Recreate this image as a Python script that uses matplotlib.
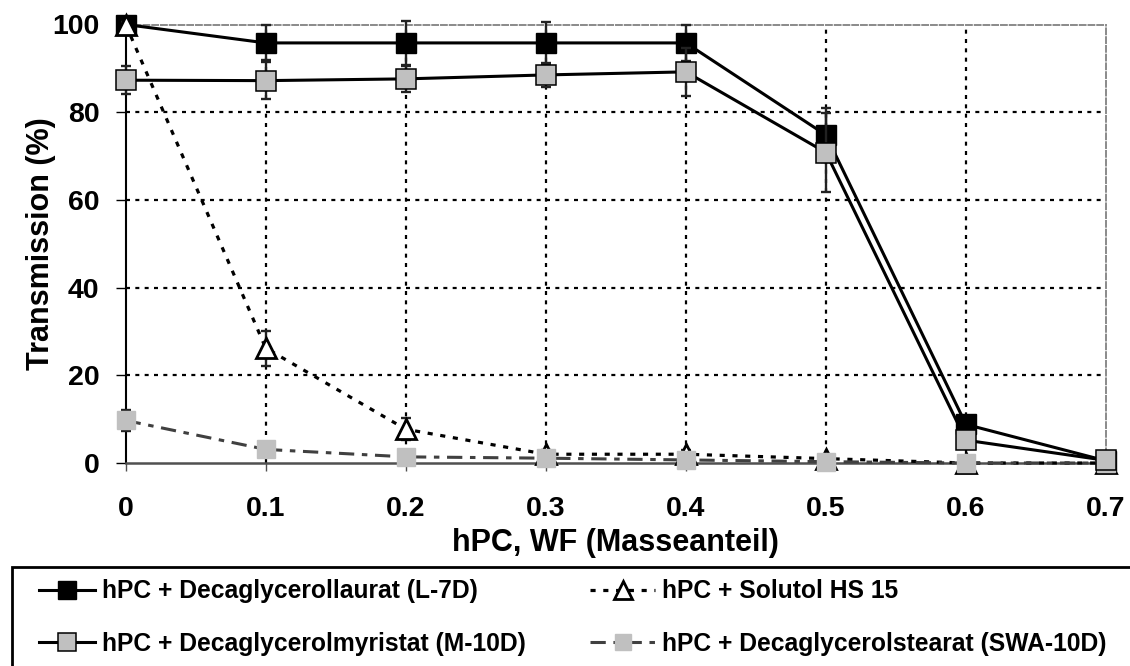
import matplotlib
matplotlib.use("Agg")
import matplotlib.pyplot as plt
from matplotlib.patches import Rectangle

plt.rcParams['font.family'] = ['Liberation Sans', 'DejaVu Sans']
plt.rcParams['font.weight'] = 'bold'

x = [0.0, 0.1, 0.2, 0.3, 0.4, 0.5, 0.6, 0.7]

l7d = [100.0, 95.8, 95.8, 95.8, 95.8, 74.8, 8.8, 0.5]
l7d_err = [0.5, 4.0, 5.0, 4.8, 4.2, 6.2, 1.0, 0.3]

m10d = [87.3, 87.2, 87.6, 88.5, 89.2, 70.8, 5.2, 0.6]
m10d_err = [3.2, 4.2, 3.0, 2.8, 5.4, 9.0, 1.0, 0.4]

solutol = [100.0, 26.2, 7.7, 2.0, 2.0, 1.0, 0.0, 0.0]
solutol_err = [0.5, 4.0, 2.5, 1.0, 1.0, 0.8, 0.5, 0.3]

swa = [9.7, 3.1, 1.4, 1.1, 0.7, 0.3, 0.0, 0.0]
swa_err = [2.3, 0.3, 0.3, 0.3, 0.2, 0.2, 0.2, 0.2]

labels = ["hPC + Decaglycerollaurat (L-7D)",
          "hPC + Decaglycerolmyristat (M-10D)",
          "hPC + Solutol HS 15",
          "hPC + Decaglycerolstearat (SWA-10D)"]

xticks = [0, 0.1, 0.2, 0.3, 0.4, 0.5, 0.6, 0.7]
xticklabels = ["0", "0.1", "0.2", "0.3", "0.4", "0.5", "0.6", "0.7"]
yticks = [0, 20, 40, 60, 80, 100]

W, H = 1130, 666
fig = plt.figure(figsize=(W / 100, H / 100), dpi=100)
ax = fig.add_axes([125.7 / W, (H - 463) / H, (1106 - 125.7) / W, (463 - 24.5) / H])

ax.set_xlim(0, 0.7)
ax.set_ylim(0, 100)

# grid
for yv in [20, 40, 60, 80]:
    ax.axhline(yv, color='black', lw=1.6, ls=(0, (1.8, 2.4)), zorder=1)
for xv in [0.1, 0.2, 0.3, 0.4, 0.5, 0.6]:
    ax.axvline(xv, color='black', lw=1.6, ls=(0, (1.8, 2.4)), zorder=1)

errkw = dict(ecolor='#222222', elinewidth=1.7, capsize=3.8, capthick=1.7)

# L-7D
ax.errorbar(x, l7d, yerr=l7d_err, fmt='none', zorder=3, clip_on=False, **errkw)
h1, = ax.plot(x, l7d, color='black', lw=2.2, marker='s', ms=14, mfc='black',
              mec='black', mew=1.0, zorder=4, clip_on=False)
# Solutol
ax.errorbar(x, solutol, yerr=solutol_err, fmt='none', zorder=5, clip_on=False, **errkw)
h3, = ax.plot(x, solutol, color='black', lw=2.3, ls=(0, (1.6, 2.4)), marker='^', ms=15,
              mfc='white', mec='black', mew=2.0, zorder=6, clip_on=False)
# SWA-10D
ax.errorbar(x, swa, yerr=swa_err, fmt='none', zorder=7, clip_on=False, **errkw)
h4, = ax.plot(x, swa, color='#404040', lw=2.2, ls=(0, (5, 2.5, 1.8, 2.5)), marker='s', ms=12.5,
              mfc='#c0c0c0', mec='#c0c0c0', mew=1.0, zorder=8, clip_on=False)
# M-10D
ax.errorbar(x, m10d, yerr=m10d_err, fmt='none', zorder=9, clip_on=False, **errkw)
h2, = ax.plot(x, m10d, color='black', lw=2.2, marker='s', ms=14, mfc='#c0c0c0',
              mec='black', mew=1.1, zorder=10, clip_on=False)

# spines
ax.spines['left'].set_color('black')
ax.spines['left'].set_linewidth(1.5)
ax.spines['bottom'].set_color('#505050')
ax.spines['bottom'].set_linewidth(1.8)
for s in ['top', 'right']:
    ax.spines[s].set_color('#8a8a8a')
    ax.spines[s].set_linewidth(1.4)
    ax.spines[s].set_linestyle((0, (3, 1.5)))

ax.set_xticks(xticks)
ax.set_xticklabels(xticklabels)
ax.set_yticks(yticks)
ax.tick_params(axis='x', direction='out', length=6, width=1, color='#505050', pad=18, labelsize=20.5)
ax.tick_params(axis='y', direction='out', length=7, width=1, color='black', pad=12, labelsize=20.5)
for t in ax.get_xticklabels() + ax.get_yticklabels():
    t.set_fontweight('bold')

ax.set_xlabel("hPC, WF (Masseanteil)", fontsize=22, fontweight='bold', labelpad=4)
ax.set_ylabel("Transmission (%)", fontsize=22, fontweight='bold', labelpad=-2.5)

# legend box
fig.patches.append(Rectangle((12 / W, -0.1), 1.2, (H - 567) / H + 0.1,
                             transform=fig.transFigure, fill=False, ec='black', lw=2.0))

legkw = dict(loc='center left', frameon=False, handletextpad=0.28, labelspacing=1.15,
             borderpad=0, borderaxespad=0, markerscale=0.9,
             prop={'weight': 'bold', 'size': 17.7})
leg1 = fig.legend([h1, h2], labels[:2], bbox_to_anchor=(39 / W, (H - 617.5) / H),
                  handlelength=2.28, **legkw)
leg2 = fig.legend([h3, h4], labels[2:], bbox_to_anchor=(590 / W, (H - 617.5) / H),
                  handlelength=2.65, **legkw)

fig.savefig("out.png", dpi=100)
